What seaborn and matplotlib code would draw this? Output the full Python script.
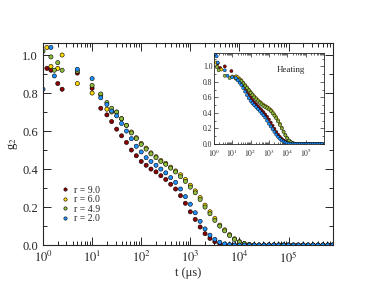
import numpy as np
import pandas as pd
import matplotlib
matplotlib.use("Agg")
import matplotlib.pyplot as plt
import seaborn as sns
from matplotlib.ticker import LogLocator, MultipleLocator, NullFormatter

# series labels / colours (legend order)
labels = ["r = 9.0", "r = 6.0", "r = 4.9", "r = 2.0"]
colors = ["#8b0000", "#ffd700", "#8fbc3f", "#1e90ff"]

# shared dense time grid (us)
t_dense = [31.6, 39.8, 50.1, 63.1, 79.4, 100, 126, 158, 200, 251, 316, 398, 501, 631, 794,
           1000, 1259, 1585, 1995, 2512, 3162, 3981, 5012, 6310, 7943, 10000, 12589, 15849,
           19953, 25119, 31623, 39811, 50119, 63096, 79433, 100000, 125893, 158489, 199526,
           251189, 316228, 398107, 501187, 630957, 794328]

# main panel: early sparse points
t_early_r9 = [1.2, 1.45, 2.0, 2.45, 5.0, 10, 15, 20, 25]
g_early_r9 = [0.93, 0.92, 0.85, 0.82, 0.905, 0.825, 0.72, 0.685, 0.65]
t_early_r6 = [1.2, 1.45, 2.0, 2.45, 5.0, 10, 15, 20, 25]
g_early_r6 = [1.04, 0.94, 0.93, 1.0, 0.85, 0.80, 0.79, 0.715, 0.70]
t_early_r49 = [1.0, 1.45, 1.7, 2.0, 2.45, 5.0, 10, 15, 20, 25]
g_early_r49 = [1.02, 0.99, 0.92, 0.96, 0.92, 0.915, 0.84, 0.795, 0.75, 0.72]
t_early_r2 = [1.0, 1.45, 1.7, 5.0, 10, 15, 20, 25]
g_early_r2 = [0.82, 1.04, 0.89, 0.925, 0.876, 0.775, 0.74, 0.705]

# main panel: dense part on t_dense
g_r9 = [0.61, 0.575, 0.54, 0.50, 0.47, 0.44, 0.42, 0.40, 0.385, 0.365, 0.345, 0.32, 0.295,
        0.26, 0.22, 0.175, 0.135, 0.095, 0.06, 0.035, 0.018, 0.008, 0.003, 0.001, 0.0,
        0.0, 0.0, 0.0, 0.0, 0.0, 0.0, 0.0, 0.0, 0.0, 0.0, 0.0, 0.0, 0.0, 0.0, 0.0,
        0.0, 0.0, 0.0, 0.0, 0.0]
g_r6 = [0.70, 0.665, 0.63, 0.595, 0.565, 0.535, 0.51, 0.485, 0.465, 0.445, 0.43, 0.41, 0.39,
        0.37, 0.345, 0.315, 0.285, 0.25, 0.21, 0.175, 0.14, 0.105, 0.08, 0.055, 0.033,
        0.018, 0.008, 0.003, 0.0, 0.0, 0.0, 0.0, 0.0, 0.0, 0.0, 0.0, 0.0, 0.0, 0.0, 0.0,
        0.0, 0.0, 0.0, 0.0, 0.0]
g_r49 = [0.70, 0.665, 0.63, 0.59, 0.56, 0.53, 0.505, 0.48, 0.46, 0.44, 0.425, 0.405, 0.385,
         0.36, 0.335, 0.305, 0.275, 0.24, 0.20, 0.165, 0.13, 0.10, 0.075, 0.05, 0.03,
         0.016, 0.007, 0.002, 0.0, 0.0, 0.0, 0.0, 0.0, 0.0, 0.0, 0.0, 0.0, 0.0, 0.0, 0.0,
         0.0, 0.0, 0.0, 0.0, 0.0]
g_r2 = [0.68, 0.64, 0.60, 0.56, 0.52, 0.49, 0.46, 0.44, 0.42, 0.40, 0.38, 0.355, 0.33,
        0.295, 0.255, 0.215, 0.17, 0.125, 0.085, 0.052, 0.03, 0.015, 0.006, 0.002, 0.0,
        0.0, 0.0, 0.0, 0.0, 0.0, 0.0, 0.0, 0.0, 0.0, 0.0, 0.0, 0.0, 0.0, 0.0, 0.0,
        0.0, 0.0, 0.0, 0.0, 0.0]

# inset (heating): early sparse points
th_early_r9 = [1.6, 2.2, 3.9, 9.0, 16, 20, 25]
gh_early_r9 = [1.04, 0.98, 1.0, 0.94, 0.87, 0.85, 0.83]
th_early_r6 = [1.3, 1.5, 2.5, 10, 16, 20, 25]
gh_early_r6 = [1.05, 1.0, 0.96, 0.87, 0.87, 0.86, 0.84]
th_early_r49 = [1.45, 1.8, 3.9, 7.2, 16, 20, 25]
gh_early_r49 = [0.99, 0.95, 0.88, 0.85, 0.84, 0.83, 0.82]
th_early_r2 = [1.2, 1.4, 1.6, 3.9, 5.5, 10, 16, 20, 25]
gh_early_r2 = [1.16, 1.13, 1.05, 0.95, 0.88, 0.86, 0.85, 0.82, 0.79]

# inset: dense part on t_dense
gh_r9 = [0.80, 0.76, 0.72, 0.68, 0.64, 0.60, 0.565, 0.535, 0.51, 0.485, 0.46, 0.435, 0.41,
         0.38, 0.35, 0.315, 0.275, 0.235, 0.195, 0.155, 0.12, 0.09, 0.065, 0.045, 0.03,
         0.018, 0.01, 0.005, 0.002, 0.0, 0.0, 0.0, 0.0, 0.0, 0.0, 0.0, 0.0, 0.0, 0.0, 0.0,
         0.0, 0.0, 0.0, 0.0, 0.0]
gh_r6 = [0.82, 0.79, 0.76, 0.73, 0.70, 0.67, 0.64, 0.615, 0.59, 0.565, 0.545, 0.525, 0.505,
         0.49, 0.475, 0.46, 0.44, 0.41, 0.38, 0.345, 0.305, 0.26, 0.21, 0.16, 0.115,
         0.075, 0.045, 0.025, 0.01, 0.004, 0.001, 0.0, 0.0, 0.0, 0.0, 0.0, 0.0, 0.0, 0.0, 0.0,
         0.0, 0.0, 0.0, 0.0, 0.0]
gh_r49 = [0.81, 0.78, 0.75, 0.72, 0.69, 0.66, 0.63, 0.60, 0.575, 0.55, 0.53, 0.51, 0.49,
          0.475, 0.46, 0.445, 0.425, 0.395, 0.365, 0.33, 0.29, 0.245, 0.20, 0.155, 0.11,
          0.072, 0.043, 0.023, 0.01, 0.004, 0.001, 0.0, 0.0, 0.0, 0.0, 0.0, 0.0, 0.0, 0.0, 0.0,
          0.0, 0.0, 0.0, 0.0, 0.0]
gh_r2 = [0.76, 0.72, 0.675, 0.63, 0.59, 0.555, 0.525, 0.50, 0.475, 0.45, 0.425, 0.395, 0.37,
         0.34, 0.30, 0.26, 0.225, 0.19, 0.155, 0.12, 0.09, 0.065, 0.045, 0.03, 0.018,
         0.01, 0.005, 0.002, 0.0, 0.0, 0.0, 0.0, 0.0, 0.0, 0.0, 0.0, 0.0, 0.0, 0.0, 0.0,
         0.0, 0.0, 0.0, 0.0, 0.0]

xticks = [1, 10, 100, 1000, 10000, 100000]
xticklabels = ["$10^{0}$", "$10^{1}$", "$10^{2}$", "$10^{3}$", "$10^{4}$", "$10^{5}$"]


def build(early_t, early_g, dense_g):
    frames = []
    for lab, te, ge, gd in zip(labels, early_t, early_g, dense_g):
        frames.append(pd.DataFrame({"t": list(te) + t_dense, "g2": list(ge) + gd, "r": lab}))
    return pd.concat(frames, ignore_index=True)


df_main = build([t_early_r9, t_early_r6, t_early_r49, t_early_r2],
                [g_early_r9, g_early_r6, g_early_r49, g_early_r2],
                [g_r9, g_r6, g_r49, g_r2])
df_heat = build([th_early_r9, th_early_r6, th_early_r49, th_early_r2],
                [gh_early_r9, gh_early_r6, gh_early_r49, gh_early_r2],
                [gh_r9, gh_r6, gh_r49, gh_r2])

sns.set_style("ticks")
plt.rcParams["font.family"] = ["Liberation Serif", "DejaVu Serif"]
plt.rcParams["mathtext.fontset"] = "stix"

fig = plt.figure(figsize=(3.74, 2.89), dpi=100)
ax = fig.add_axes([0.115, 0.152, 0.775, 0.699])

sns.scatterplot(data=df_main, x="t", y="g2", hue="r", hue_order=labels, palette=colors,
                s=9, edgecolor="black", linewidth=0.4, ax=ax)
ax.set_xscale("log")
ax.set_xlim(1, 8e5)
ax.set_ylim(0, 1.063)
ax.set_xticks(xticks)
ax.set_xticklabels(xticklabels)
ax.xaxis.set_minor_locator(LogLocator(base=10, subs=np.arange(2, 10), numticks=20))
ax.xaxis.set_minor_formatter(NullFormatter())
ax.yaxis.set_major_locator(MultipleLocator(0.2))
ax.yaxis.set_minor_locator(MultipleLocator(0.1))
ax.tick_params(which="both", direction="in", top=True, right=True, labelsize=9, width=0.7)
ax.tick_params(which="major", length=6)
ax.tick_params(which="minor", length=3)
ax.set_xlabel("t (μs)", fontsize=9, labelpad=1)
ax.set_ylabel("g$_2$", fontsize=9, labelpad=2)
for sp in ax.spines.values():
    sp.set_linewidth(0.8)

handles, labs = ax.get_legend_handles_labels()
ax.legend(handles, labs, loc="lower left", bbox_to_anchor=(0.045, 0.085), frameon=False,
          fontsize=7, handlelength=0.8, handletextpad=0.5, labelspacing=0.05,
          borderpad=0, markerscale=0.8)

# inset
axi = fig.add_axes([0.572, 0.502, 0.294, 0.313])
sns.scatterplot(data=df_heat, x="t", y="g2", hue="r", hue_order=labels, palette=colors,
                s=5, edgecolor="black", linewidth=0.3, ax=axi, legend=False)
axi.set_xscale("log")
axi.set_xlim(1, 1e6)
axi.set_ylim(0, 1.167)
axi.set_xticks(xticks)
axi.set_xticklabels(xticklabels)
axi.xaxis.set_minor_locator(LogLocator(base=10, subs=np.arange(2, 10), numticks=20))
axi.xaxis.set_minor_formatter(NullFormatter())
axi.yaxis.set_major_locator(MultipleLocator(0.2))
axi.yaxis.set_minor_locator(MultipleLocator(0.1))
axi.tick_params(which="both", direction="in", top=True, right=True, labelsize=5.5,
                width=0.5)
axi.tick_params(axis="x", pad=2.5)
axi.tick_params(axis="y", pad=1)
axi.tick_params(which="major", length=3)
axi.tick_params(which="minor", length=1.5)
axi.set_xlabel("")
axi.set_ylabel("")
for sp in axi.spines.values():
    sp.set_linewidth(0.6)
axi.text(0.70, 0.82, "Heating", transform=axi.transAxes, fontsize=6.5,
         ha="center", va="center")

fig.savefig("out.png", dpi=100)
